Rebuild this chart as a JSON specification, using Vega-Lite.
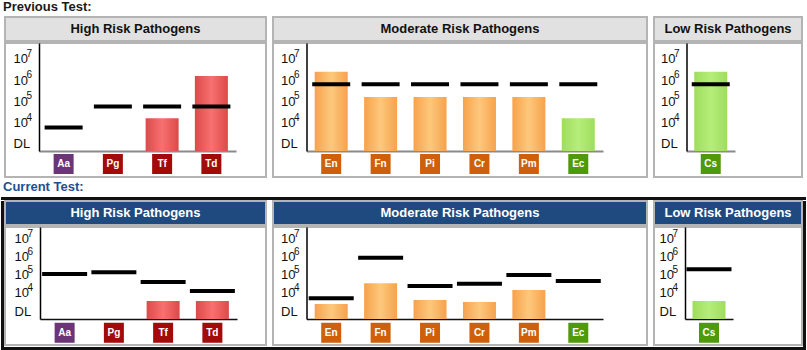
{
  "$schema": "https://vega.github.io/schema/vega-lite/v6.json",
  "padding": {"left": 1, "top": 1, "right": 0, "bottom": 0},
  "background": "white",
  "spacing": 3,
  "config": {"font": "Liberation Sans", "view": {"stroke": null}, "axis": {"grid": false, "tickSize": 0, "title": null}},
  "datasets": {
    "prev": [
      {"panel": "High", "code": "Aa", "bar": null, "line": 5900},
      {"panel": "High", "code": "Pg", "bar": null, "line": 57000},
      {"panel": "High", "code": "Tf", "bar": 16000, "line": 57000},
      {"panel": "High", "code": "Td", "bar": 1550000, "line": 57000},
      {"panel": "Moderate", "code": "En", "bar": 2450000, "line": 630000},
      {"panel": "Moderate", "code": "Fn", "bar": 162000, "line": 630000},
      {"panel": "Moderate", "code": "Pi", "bar": 162000, "line": 630000},
      {"panel": "Moderate", "code": "Cr", "bar": 162000, "line": 630000},
      {"panel": "Moderate", "code": "Pm", "bar": 162000, "line": 630000},
      {"panel": "Moderate", "code": "Ec", "bar": 16000, "line": 630000},
      {"panel": "Low", "code": "Cs", "bar": 2450000, "line": 630000}
    ],
    "curr": [
      {"panel": "High", "code": "Aa", "bar": null, "line": 114000},
      {"panel": "High", "code": "Pg", "bar": null, "line": 140000},
      {"panel": "High", "code": "Tf", "bar": 3600, "line": 41000},
      {"panel": "High", "code": "Td", "bar": 3600, "line": 13000},
      {"panel": "Moderate", "code": "En", "bar": 2450, "line": 5100},
      {"panel": "Moderate", "code": "Fn", "bar": 35000, "line": 910000},
      {"panel": "Moderate", "code": "Pi", "bar": 4100, "line": 24500},
      {"panel": "Moderate", "code": "Cr", "bar": 3160, "line": 33000},
      {"panel": "Moderate", "code": "Pm", "bar": 14700, "line": 100000},
      {"panel": "Moderate", "code": "Ec", "bar": null, "line": 46000},
      {"panel": "Low", "code": "Cs", "bar": 3600, "line": 210000}
    ]
  },
  "vconcat": [
    {
      "title": {"text": "Previous Test:", "anchor": "start", "fontSize": 13, "fontWeight": "bold", "color": "#1a1a1a", "offset": 2, "dx": 2},
      "spacing": 0,
      "hconcat": [
        {"width": 3, "height": 10, "data": {"values": []}, "mark": "point"},
        {
          "spacing": 5,
          "hconcat": [
            {
              "spacing": 0,
              "vconcat": [
                {"width": 261, "height": 24, "view": {"fill": "#e1e1e1", "stroke": "#b4b4b4", "strokeWidth": 2},
                 "data": {"values": [{"t": "High Risk Pathogens"}]},
                 "mark": {"type": "text", "fontSize": 13, "fontWeight": "bold", "color": "#111"},
                 "encoding": {"text": {"field": "t"}}},
                {"width": 261, "height": 134, "view": {"fill": "white", "stroke": "#b4b4b4", "strokeWidth": 2},
                 "data": {"name": "prev"},
                 "transform": [{"filter": "datum.panel == 'High'"}],
                 "resolve": {"axis": {"y": "independent"}},
                 "encoding": {
                   "x": {"field": "code", "type": "nominal", "title": null,
                         "scale": {"domain": ["Aa", "Pg", "Tf", "Td"], "range": [34, 231], "paddingInner": 0, "paddingOuter": 0},
                         "axis": {"orient": "bottom", "offset": -26, "labels": false, "ticks": false, "domainColor": "#8a8a8a", "domainWidth": 2}}
                 },
                 "layer": [
                   {"mark": {"type": "bar", "width": 33, "fill": {"gradient": "linear", "x1": 0, "x2": 1, "y1": 0, "y2": 0, "stops": [{"offset": 0, "color": "#dc4a4a"}, {"offset": 0.5, "color": "#f87070"}, {"offset": 1, "color": "#dc4a4a"}]}},
                    "encoding": {
                      "y": {"field": "bar", "type": "quantitative", "title": null,
                            "scale": {"type": "log", "domain": [468, 55000000], "range": [108, 0], "nice": false},
                            "axis": {"orient": "left", "values": [1000, 10000, 100000, 1000000, 10000000], "labelExpr": "datum.value < 2000 ? 'DL' : '10'", "offset": -34, "ticks": false, "domainColor": "#000", "domainWidth": 1.5, "labelAlign": "left", "labelPadding": 26, "labelFontSize": 13, "labelColor": "#111"}},
                      "y2": {"datum": 468}
                    }},
                   {"mark": {"type": "tick", "color": "#000", "thickness": 4, "size": 38, "opacity": 1},
                    "encoding": {"y": {"field": "line", "type": "quantitative", "title": null,
                      "axis": {"orient": "left", "values": [10000, 100000, 1000000, 10000000], "labelExpr": "datum.value < 20000 ? '4' : datum.value < 200000 ? '5' : datum.value < 2000000 ? '6' : '7'", "offset": -34, "ticks": false, "domain": false, "labelAlign": "left", "labelPadding": 13, "labelFontSize": 10, "labelOffset": -5.5, "labelColor": "#111"}}}},
                   {"mark": {"type": "square", "size": 400, "filled": true, "opacity": 1},
                    "encoding": {"y": {"datum": 115, "type": "quantitative", "axis": null},
                                 "color": {"field": "code", "type": "nominal", "legend": null, "scale": {"domain": ["Aa", "Pg", "Tf", "Td", "En", "Fn", "Pi", "Cr", "Pm", "Ec", "Cs"], "range": ["#6b3577", "#a30a0a", "#a30a0a", "#a30a0a", "#cf5f0a", "#cf5f0a", "#cf5f0a", "#cf5f0a", "#cf5f0a", "#4f9a0a", "#4f9a0a"]}}}},
                   {"mark": {"type": "text", "color": "white", "fontWeight": "bold", "fontSize": 10},
                    "encoding": {"y": {"datum": 115, "type": "quantitative", "axis": null}, "text": {"field": "code"}}}
                 ]}
              ]
            },
            {
              "spacing": 0,
              "vconcat": [
                {"width": 374, "height": 24, "view": {"fill": "#e1e1e1", "stroke": "#b4b4b4", "strokeWidth": 2},
                 "data": {"values": [{"t": "Moderate Risk Pathogens"}]},
                 "mark": {"type": "text", "fontSize": 13, "fontWeight": "bold", "color": "#111"},
                 "encoding": {"text": {"field": "t"}}},
                {"width": 374, "height": 134, "view": {"fill": "white", "stroke": "#b4b4b4", "strokeWidth": 2},
                 "data": {"name": "prev"},
                 "transform": [{"filter": "datum.panel == 'Moderate'"}],
                 "resolve": {"axis": {"y": "independent"}},
                 "encoding": {
                   "x": {"field": "code", "type": "nominal", "title": null,
                         "scale": {"domain": ["En", "Fn", "Pi", "Cr", "Pm", "Ec"], "range": [33.5, 330], "paddingInner": 0, "paddingOuter": 0},
                         "axis": {"orient": "bottom", "offset": -26, "labels": false, "ticks": false, "domainColor": "#8a8a8a", "domainWidth": 2}}
                 },
                 "layer": [
                   {"transform": [{"filter": {"field": "code", "oneOf": ["En", "Fn", "Pi", "Cr", "Pm"]}}],
                    "mark": {"type": "bar", "width": 33, "fill": {"gradient": "linear", "x1": 0, "x2": 1, "y1": 0, "y2": 0, "stops": [{"offset": 0, "color": "#f6a24c"}, {"offset": 0.5, "color": "#fdc87c"}, {"offset": 1, "color": "#f6a24c"}]}},
                    "encoding": {
                      "y": {"field": "bar", "type": "quantitative", "title": null,
                            "scale": {"type": "log", "domain": [468, 55000000], "range": [108, 0], "nice": false},
                            "axis": {"orient": "left", "values": [1000, 10000, 100000, 1000000, 10000000], "labelExpr": "datum.value < 2000 ? 'DL' : '10'", "offset": -33.5, "ticks": false, "domainColor": "#000", "domainWidth": 1.5, "labelAlign": "left", "labelPadding": 26, "labelFontSize": 13, "labelColor": "#111"}},
                      "y2": {"datum": 468}
                    }},
                   {"transform": [{"filter": {"field": "code", "oneOf": ["Ec"]}}],
                    "mark": {"type": "bar", "width": 33, "fill": {"gradient": "linear", "x1": 0, "x2": 1, "y1": 0, "y2": 0, "stops": [{"offset": 0, "color": "#9edd5c"}, {"offset": 0.5, "color": "#b5ee7a"}, {"offset": 1, "color": "#9edd5c"}]}},
                    "encoding": {"y": {"field": "bar", "type": "quantitative", "title": null, "axis": null}, "y2": {"datum": 468}}},
                   {"mark": {"type": "tick", "color": "#000", "thickness": 4, "size": 38, "opacity": 1},
                    "encoding": {"y": {"field": "line", "type": "quantitative", "title": null,
                      "axis": {"orient": "left", "values": [10000, 100000, 1000000, 10000000], "labelExpr": "datum.value < 20000 ? '4' : datum.value < 200000 ? '5' : datum.value < 2000000 ? '6' : '7'", "offset": -33.5, "ticks": false, "domain": false, "labelAlign": "left", "labelPadding": 13, "labelFontSize": 10, "labelOffset": -5.5, "labelColor": "#111"}}}},
                   {"mark": {"type": "square", "size": 400, "filled": true, "opacity": 1},
                    "encoding": {"y": {"datum": 115, "type": "quantitative", "axis": null},
                                 "color": {"field": "code", "type": "nominal", "legend": null, "scale": {"domain": ["Aa", "Pg", "Tf", "Td", "En", "Fn", "Pi", "Cr", "Pm", "Ec", "Cs"], "range": ["#6b3577", "#a30a0a", "#a30a0a", "#a30a0a", "#cf5f0a", "#cf5f0a", "#cf5f0a", "#cf5f0a", "#cf5f0a", "#4f9a0a", "#4f9a0a"]}}}},
                   {"mark": {"type": "text", "color": "white", "fontWeight": "bold", "fontSize": 10},
                    "encoding": {"y": {"datum": 115, "type": "quantitative", "axis": null}, "text": {"field": "code"}}}
                 ]}
              ]
            },
            {
              "spacing": 0,
              "vconcat": [
                {"width": 148, "height": 24, "view": {"fill": "#e1e1e1", "stroke": "#b4b4b4", "strokeWidth": 2},
                 "data": {"values": [{"t": "Low Risk Pathogens"}]},
                 "mark": {"type": "text", "fontSize": 13, "fontWeight": "bold", "color": "#111"},
                 "encoding": {"text": {"field": "t"}}},
                {"width": 148, "height": 134, "view": {"fill": "white", "stroke": "#b4b4b4", "strokeWidth": 2},
                 "data": {"name": "prev"},
                 "transform": [{"filter": "datum.panel == 'Low'"}],
                 "resolve": {"axis": {"y": "independent"}},
                 "encoding": {
                   "x": {"field": "code", "type": "nominal", "title": null,
                         "scale": {"domain": ["Cs"], "range": [32.5, 81], "paddingInner": 0, "paddingOuter": 0},
                         "axis": {"orient": "bottom", "offset": -26, "labels": false, "ticks": false, "domainColor": "#8a8a8a", "domainWidth": 2}}
                 },
                 "layer": [
                   {"mark": {"type": "bar", "width": 33, "fill": {"gradient": "linear", "x1": 0, "x2": 1, "y1": 0, "y2": 0, "stops": [{"offset": 0, "color": "#9edd5c"}, {"offset": 0.5, "color": "#b5ee7a"}, {"offset": 1, "color": "#9edd5c"}]}},
                    "encoding": {
                      "y": {"field": "bar", "type": "quantitative", "title": null,
                            "scale": {"type": "log", "domain": [468, 55000000], "range": [108, 0], "nice": false},
                            "axis": {"orient": "left", "values": [1000, 10000, 100000, 1000000, 10000000], "labelExpr": "datum.value < 2000 ? 'DL' : '10'", "offset": -32.5, "ticks": false, "domainColor": "#000", "domainWidth": 1.5, "labelAlign": "left", "labelPadding": 26, "labelFontSize": 13, "labelColor": "#111"}},
                      "y2": {"datum": 468}
                    }},
                   {"mark": {"type": "tick", "color": "#000", "thickness": 4, "size": 38, "opacity": 1},
                    "encoding": {"y": {"field": "line", "type": "quantitative", "title": null,
                      "axis": {"orient": "left", "values": [10000, 100000, 1000000, 10000000], "labelExpr": "datum.value < 20000 ? '4' : datum.value < 200000 ? '5' : datum.value < 2000000 ? '6' : '7'", "offset": -32.5, "ticks": false, "domain": false, "labelAlign": "left", "labelPadding": 13, "labelFontSize": 10, "labelOffset": -5.5, "labelColor": "#111"}}}},
                   {"mark": {"type": "square", "size": 400, "filled": true, "opacity": 1},
                    "encoding": {"y": {"datum": 115, "type": "quantitative", "axis": null},
                                 "color": {"field": "code", "type": "nominal", "legend": null, "scale": {"domain": ["Aa", "Pg", "Tf", "Td", "En", "Fn", "Pi", "Cr", "Pm", "Ec", "Cs"], "range": ["#6b3577", "#a30a0a", "#a30a0a", "#a30a0a", "#cf5f0a", "#cf5f0a", "#cf5f0a", "#cf5f0a", "#cf5f0a", "#4f9a0a", "#4f9a0a"]}}}},
                   {"mark": {"type": "text", "color": "white", "fontWeight": "bold", "fontSize": 10},
                    "encoding": {"y": {"datum": 115, "type": "quantitative", "axis": null}, "text": {"field": "code"}}}
                 ]}
              ]
            }
          ]
        }
      ]
    },
    {
      "title": {"text": "Current Test:", "anchor": "start", "fontSize": 13, "fontWeight": "bold", "color": "#1e4f91", "offset": 3, "dx": 2},
      "spacing": 0,
      "vconcat": [
        {"width": 805, "height": 3, "data": {"values": []}, "mark": "point", "view": {"fill": "#111", "stroke": null}},
        {
          "spacing": 0,
          "hconcat": [
            {"width": 3, "height": 146, "data": {"values": []}, "mark": "point", "view": {"fill": "#111", "stroke": null}},
            {
              "spacing": 5,
              "hconcat": [
                {
                  "spacing": 0,
                  "vconcat": [
                    {"width": 261, "height": 24, "view": {"fill": "#1f4a7f", "stroke": "#b4b4b4", "strokeWidth": 2},
                     "data": {"values": [{"t": "High Risk Pathogens"}]},
                     "mark": {"type": "text", "fontSize": 13, "fontWeight": "bold", "color": "white"},
                     "encoding": {"text": {"field": "t"}}},
                    {"width": 261, "height": 118, "view": {"fill": "white", "stroke": "#b4b4b4", "strokeWidth": 2},
                     "data": {"name": "curr"},
                     "transform": [{"filter": "datum.panel == 'High'"}],
                     "resolve": {"axis": {"y": "independent"}},
                     "encoding": {
                       "x": {"field": "code", "type": "nominal", "title": null,
                             "scale": {"domain": ["Aa", "Pg", "Tf", "Td"], "range": [35, 232], "paddingInner": 0, "paddingOuter": 0},
                             "axis": {"orient": "bottom", "offset": -26, "labels": false, "ticks": false, "domainColor": "#111", "domainWidth": 1.5}}
                     },
                     "layer": [
                       {"mark": {"type": "bar", "width": 33, "fill": {"gradient": "linear", "x1": 0, "x2": 1, "y1": 0, "y2": 0, "stops": [{"offset": 0, "color": "#dc4a4a"}, {"offset": 0.5, "color": "#f87070"}, {"offset": 1, "color": "#dc4a4a"}]}},
                        "encoding": {
                          "y": {"field": "bar", "type": "quantitative", "title": null,
                                "scale": {"type": "log", "domain": [360, 46000000], "range": [92, 0], "nice": false},
                                "axis": {"orient": "left", "values": [1000, 10000, 100000, 1000000, 10000000], "labelExpr": "datum.value < 2000 ? 'DL' : '10'", "offset": -35, "ticks": false, "domainColor": "#000", "domainWidth": 1.5, "labelAlign": "left", "labelPadding": 26, "labelFontSize": 13, "labelColor": "#111"}},
                          "y2": {"datum": 360}
                        }},
                       {"mark": {"type": "tick", "color": "#000", "thickness": 4, "size": 45, "opacity": 1},
                        "encoding": {"y": {"field": "line", "type": "quantitative", "title": null,
                          "axis": {"orient": "left", "values": [10000, 100000, 1000000, 10000000], "labelExpr": "datum.value < 20000 ? '4' : datum.value < 200000 ? '5' : datum.value < 2000000 ? '6' : '7'", "offset": -35, "ticks": false, "domain": false, "labelAlign": "left", "labelPadding": 13, "labelFontSize": 10, "labelOffset": -5.5, "labelColor": "#111"}}}},
                       {"mark": {"type": "square", "size": 400, "filled": true, "opacity": 1},
                        "encoding": {"y": {"datum": 62, "type": "quantitative", "axis": null},
                                     "color": {"field": "code", "type": "nominal", "legend": null, "scale": {"domain": ["Aa", "Pg", "Tf", "Td", "En", "Fn", "Pi", "Cr", "Pm", "Ec", "Cs"], "range": ["#6b3577", "#a30a0a", "#a30a0a", "#a30a0a", "#cf5f0a", "#cf5f0a", "#cf5f0a", "#cf5f0a", "#cf5f0a", "#4f9a0a", "#4f9a0a"]}}}},
                       {"mark": {"type": "text", "color": "white", "fontWeight": "bold", "fontSize": 10},
                        "encoding": {"y": {"datum": 62, "type": "quantitative", "axis": null}, "text": {"field": "code"}}}
                     ]}
                  ]
                },
                {
                  "spacing": 0,
                  "vconcat": [
                    {"width": 374, "height": 24, "view": {"fill": "#1f4a7f", "stroke": "#b4b4b4", "strokeWidth": 2},
                     "data": {"values": [{"t": "Moderate Risk Pathogens"}]},
                     "mark": {"type": "text", "fontSize": 13, "fontWeight": "bold", "color": "white"},
                     "encoding": {"text": {"field": "t"}}},
                    {"width": 374, "height": 118, "view": {"fill": "white", "stroke": "#b4b4b4", "strokeWidth": 2},
                     "data": {"name": "curr"},
                     "transform": [{"filter": "datum.panel == 'Moderate'"}],
                     "resolve": {"axis": {"y": "independent"}},
                     "encoding": {
                       "x": {"field": "code", "type": "nominal", "title": null,
                             "scale": {"domain": ["En", "Fn", "Pi", "Cr", "Pm", "Ec"], "range": [33.5, 330], "paddingInner": 0, "paddingOuter": 0},
                             "axis": {"orient": "bottom", "offset": -26, "labels": false, "ticks": false, "domainColor": "#111", "domainWidth": 1.5}}
                     },
                     "layer": [
                       {"transform": [{"filter": {"field": "code", "oneOf": ["En", "Fn", "Pi", "Cr", "Pm"]}}],
                        "mark": {"type": "bar", "width": 33, "fill": {"gradient": "linear", "x1": 0, "x2": 1, "y1": 0, "y2": 0, "stops": [{"offset": 0, "color": "#f6a24c"}, {"offset": 0.5, "color": "#fdc87c"}, {"offset": 1, "color": "#f6a24c"}]}},
                        "encoding": {
                          "y": {"field": "bar", "type": "quantitative", "title": null,
                                "scale": {"type": "log", "domain": [360, 46000000], "range": [92, 0], "nice": false},
                                "axis": {"orient": "left", "values": [1000, 10000, 100000, 1000000, 10000000], "labelExpr": "datum.value < 2000 ? 'DL' : '10'", "offset": -33.5, "ticks": false, "domainColor": "#000", "domainWidth": 1.5, "labelAlign": "left", "labelPadding": 26, "labelFontSize": 13, "labelColor": "#111"}},
                          "y2": {"datum": 360}
                        }},
                       {"mark": {"type": "tick", "color": "#000", "thickness": 4, "size": 45, "opacity": 1},
                        "encoding": {"y": {"field": "line", "type": "quantitative", "title": null,
                          "axis": {"orient": "left", "values": [10000, 100000, 1000000, 10000000], "labelExpr": "datum.value < 20000 ? '4' : datum.value < 200000 ? '5' : datum.value < 2000000 ? '6' : '7'", "offset": -33.5, "ticks": false, "domain": false, "labelAlign": "left", "labelPadding": 13, "labelFontSize": 10, "labelOffset": -5.5, "labelColor": "#111"}}}},
                       {"mark": {"type": "square", "size": 400, "filled": true, "opacity": 1},
                        "encoding": {"y": {"datum": 62, "type": "quantitative", "axis": null},
                                     "color": {"field": "code", "type": "nominal", "legend": null, "scale": {"domain": ["Aa", "Pg", "Tf", "Td", "En", "Fn", "Pi", "Cr", "Pm", "Ec", "Cs"], "range": ["#6b3577", "#a30a0a", "#a30a0a", "#a30a0a", "#cf5f0a", "#cf5f0a", "#cf5f0a", "#cf5f0a", "#cf5f0a", "#4f9a0a", "#4f9a0a"]}}}},
                       {"mark": {"type": "text", "color": "white", "fontWeight": "bold", "fontSize": 10},
                        "encoding": {"y": {"datum": 62, "type": "quantitative", "axis": null}, "text": {"field": "code"}}}
                     ]}
                  ]
                },
                {
                  "spacing": 0,
                  "vconcat": [
                    {"width": 148, "height": 24, "view": {"fill": "#1f4a7f", "stroke": "#b4b4b4", "strokeWidth": 2},
                     "data": {"values": [{"t": "Low Risk Pathogens"}]},
                     "mark": {"type": "text", "fontSize": 13, "fontWeight": "bold", "color": "white"},
                     "encoding": {"text": {"field": "t"}}},
                    {"width": 148, "height": 118, "view": {"fill": "white", "stroke": "#b4b4b4", "strokeWidth": 2},
                     "data": {"name": "curr"},
                     "transform": [{"filter": "datum.panel == 'Low'"}],
                     "resolve": {"axis": {"y": "independent"}},
                     "encoding": {
                       "x": {"field": "code", "type": "nominal", "title": null,
                             "scale": {"domain": ["Cs"], "range": [31, 79], "paddingInner": 0, "paddingOuter": 0},
                             "axis": {"orient": "bottom", "offset": -26, "labels": false, "ticks": false, "domainColor": "#111", "domainWidth": 1.5}}
                     },
                     "layer": [
                       {"mark": {"type": "bar", "width": 33, "fill": {"gradient": "linear", "x1": 0, "x2": 1, "y1": 0, "y2": 0, "stops": [{"offset": 0, "color": "#9edd5c"}, {"offset": 0.5, "color": "#b5ee7a"}, {"offset": 1, "color": "#9edd5c"}]}},
                        "encoding": {
                          "y": {"field": "bar", "type": "quantitative", "title": null,
                                "scale": {"type": "log", "domain": [360, 46000000], "range": [92, 0], "nice": false},
                                "axis": {"orient": "left", "values": [1000, 10000, 100000, 1000000, 10000000], "labelExpr": "datum.value < 2000 ? 'DL' : '10'", "offset": -31, "ticks": false, "domainColor": "#000", "domainWidth": 1.5, "labelAlign": "left", "labelPadding": 26, "labelFontSize": 13, "labelColor": "#111"}},
                          "y2": {"datum": 360}
                        }},
                       {"mark": {"type": "tick", "color": "#000", "thickness": 4, "size": 45, "opacity": 1},
                        "encoding": {"y": {"field": "line", "type": "quantitative", "title": null,
                          "axis": {"orient": "left", "values": [10000, 100000, 1000000, 10000000], "labelExpr": "datum.value < 20000 ? '4' : datum.value < 200000 ? '5' : datum.value < 2000000 ? '6' : '7'", "offset": -31, "ticks": false, "domain": false, "labelAlign": "left", "labelPadding": 13, "labelFontSize": 10, "labelOffset": -5.5, "labelColor": "#111"}}}},
                       {"mark": {"type": "square", "size": 400, "filled": true, "opacity": 1},
                        "encoding": {"y": {"datum": 62, "type": "quantitative", "axis": null},
                                     "color": {"field": "code", "type": "nominal", "legend": null, "scale": {"domain": ["Aa", "Pg", "Tf", "Td", "En", "Fn", "Pi", "Cr", "Pm", "Ec", "Cs"], "range": ["#6b3577", "#a30a0a", "#a30a0a", "#a30a0a", "#cf5f0a", "#cf5f0a", "#cf5f0a", "#cf5f0a", "#cf5f0a", "#4f9a0a", "#4f9a0a"]}}}},
                       {"mark": {"type": "text", "color": "white", "fontWeight": "bold", "fontSize": 10},
                        "encoding": {"y": {"datum": 62, "type": "quantitative", "axis": null}, "text": {"field": "code"}}}
                     ]}
                  ]
                }
              ]
            },
            {"width": 3, "height": 146, "data": {"values": []}, "mark": "point", "view": {"fill": "#111", "stroke": null}}
          ]
        },
        {"width": 805, "height": 3, "data": {"values": []}, "mark": "point", "view": {"fill": "#111", "stroke": null}}
      ]
    }
  ]
}
